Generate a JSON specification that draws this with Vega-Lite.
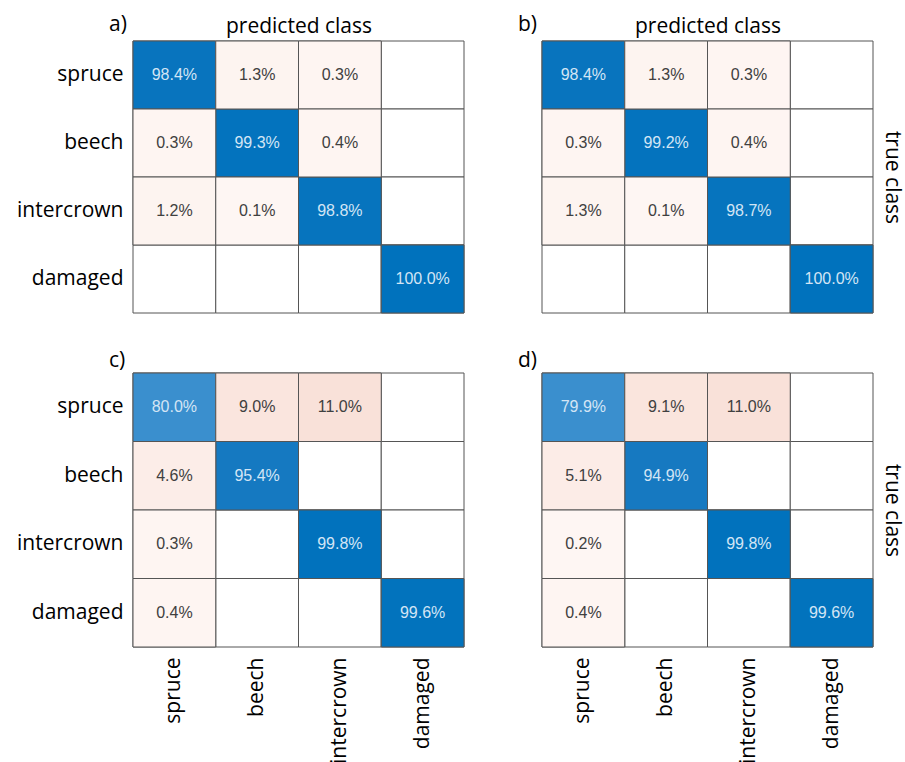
{
  "$schema": "https://vega.github.io/schema/vega-lite/v6.json",
  "background": "white",
  "padding": {"left": 5, "top": 14, "right": 5, "bottom": 0},
  "config": {
    "view": {"stroke": null},
    "title": {"font": "Open Sans", "fontSize": 21, "fontWeight": "normal", "color": "#000000", "anchor": "start", "frame": "group"},
    "axis": {"labelFont": "Open Sans", "labelFontSize": 21, "labelColor": "#000000", "titleFont": "Open Sans", "titleFontSize": 21, "titleFontWeight": "normal", "titleColor": "#000000", "ticks": false, "domain": false, "grid": false}
  },
  "data": {"values": [
    {"panel": "a", "t": "spruce", "p": "spruce", "v": 98.4},
    {"panel": "a", "t": "spruce", "p": "beech", "v": 1.3},
    {"panel": "a", "t": "spruce", "p": "intercrown", "v": 0.3},
    {"panel": "a", "t": "spruce", "p": "damaged", "v": null},
    {"panel": "a", "t": "beech", "p": "spruce", "v": 0.3},
    {"panel": "a", "t": "beech", "p": "beech", "v": 99.3},
    {"panel": "a", "t": "beech", "p": "intercrown", "v": 0.4},
    {"panel": "a", "t": "beech", "p": "damaged", "v": null},
    {"panel": "a", "t": "intercrown", "p": "spruce", "v": 1.2},
    {"panel": "a", "t": "intercrown", "p": "beech", "v": 0.1},
    {"panel": "a", "t": "intercrown", "p": "intercrown", "v": 98.8},
    {"panel": "a", "t": "intercrown", "p": "damaged", "v": null},
    {"panel": "a", "t": "damaged", "p": "spruce", "v": null},
    {"panel": "a", "t": "damaged", "p": "beech", "v": null},
    {"panel": "a", "t": "damaged", "p": "intercrown", "v": null},
    {"panel": "a", "t": "damaged", "p": "damaged", "v": 100.0},
    {"panel": "b", "t": "spruce", "p": "spruce", "v": 98.4},
    {"panel": "b", "t": "spruce", "p": "beech", "v": 1.3},
    {"panel": "b", "t": "spruce", "p": "intercrown", "v": 0.3},
    {"panel": "b", "t": "spruce", "p": "damaged", "v": null},
    {"panel": "b", "t": "beech", "p": "spruce", "v": 0.3},
    {"panel": "b", "t": "beech", "p": "beech", "v": 99.2},
    {"panel": "b", "t": "beech", "p": "intercrown", "v": 0.4},
    {"panel": "b", "t": "beech", "p": "damaged", "v": null},
    {"panel": "b", "t": "intercrown", "p": "spruce", "v": 1.3},
    {"panel": "b", "t": "intercrown", "p": "beech", "v": 0.1},
    {"panel": "b", "t": "intercrown", "p": "intercrown", "v": 98.7},
    {"panel": "b", "t": "intercrown", "p": "damaged", "v": null},
    {"panel": "b", "t": "damaged", "p": "spruce", "v": null},
    {"panel": "b", "t": "damaged", "p": "beech", "v": null},
    {"panel": "b", "t": "damaged", "p": "intercrown", "v": null},
    {"panel": "b", "t": "damaged", "p": "damaged", "v": 100.0},
    {"panel": "c", "t": "spruce", "p": "spruce", "v": 80.0},
    {"panel": "c", "t": "spruce", "p": "beech", "v": 9.0},
    {"panel": "c", "t": "spruce", "p": "intercrown", "v": 11.0},
    {"panel": "c", "t": "spruce", "p": "damaged", "v": null},
    {"panel": "c", "t": "beech", "p": "spruce", "v": 4.6},
    {"panel": "c", "t": "beech", "p": "beech", "v": 95.4},
    {"panel": "c", "t": "beech", "p": "intercrown", "v": null},
    {"panel": "c", "t": "beech", "p": "damaged", "v": null},
    {"panel": "c", "t": "intercrown", "p": "spruce", "v": 0.3},
    {"panel": "c", "t": "intercrown", "p": "beech", "v": null},
    {"panel": "c", "t": "intercrown", "p": "intercrown", "v": 99.8},
    {"panel": "c", "t": "intercrown", "p": "damaged", "v": null},
    {"panel": "c", "t": "damaged", "p": "spruce", "v": 0.4},
    {"panel": "c", "t": "damaged", "p": "beech", "v": null},
    {"panel": "c", "t": "damaged", "p": "intercrown", "v": null},
    {"panel": "c", "t": "damaged", "p": "damaged", "v": 99.6},
    {"panel": "d", "t": "spruce", "p": "spruce", "v": 79.9},
    {"panel": "d", "t": "spruce", "p": "beech", "v": 9.1},
    {"panel": "d", "t": "spruce", "p": "intercrown", "v": 11.0},
    {"panel": "d", "t": "spruce", "p": "damaged", "v": null},
    {"panel": "d", "t": "beech", "p": "spruce", "v": 5.1},
    {"panel": "d", "t": "beech", "p": "beech", "v": 94.9},
    {"panel": "d", "t": "beech", "p": "intercrown", "v": null},
    {"panel": "d", "t": "beech", "p": "damaged", "v": null},
    {"panel": "d", "t": "intercrown", "p": "spruce", "v": 0.2},
    {"panel": "d", "t": "intercrown", "p": "beech", "v": null},
    {"panel": "d", "t": "intercrown", "p": "intercrown", "v": 99.8},
    {"panel": "d", "t": "intercrown", "p": "damaged", "v": null},
    {"panel": "d", "t": "damaged", "p": "spruce", "v": 0.4},
    {"panel": "d", "t": "damaged", "p": "beech", "v": null},
    {"panel": "d", "t": "damaged", "p": "intercrown", "v": null},
    {"panel": "d", "t": "damaged", "p": "damaged", "v": 99.6}
  ]},
  "vconcat": [
    {
      "hconcat": [
        {
          "width": 331, "height": 272,
          "title": {"text": "a)", "dx": -24, "dy": 22, "offset": 2},
          "transform": [{"filter": "datum.panel === 'a'"}],
          "encoding": {
            "x": {"field": "p", "type": "nominal", "sort": ["spruce", "beech", "intercrown", "damaged"], "axis": {"orient": "top", "labels": false, "title": "predicted class", "titlePadding": 5}},
            "y": {"field": "t", "type": "nominal", "sort": ["spruce", "beech", "intercrown", "damaged"], "axis": {"orient": "left", "title": null, "labelPadding": 10, "minExtent": 128, "maxExtent": 128}}
          },
          "layer": [
            {"mark": {"type": "rect", "fill": "white", "stroke": "#555555", "strokeWidth": 1}},
            {"transform": [{"filter": "datum.v != null && datum.t === datum.p"}], "mark": {"type": "rect", "stroke": "#555555", "strokeWidth": 1}, "encoding": {"color": {"field": "v", "type": "quantitative", "scale": {"domain": [80, 100], "range": ["#3A8FCE", "#0072BD"], "clamp": true}, "legend": null}}},
            {"transform": [{"filter": "datum.v != null && datum.t !== datum.p"}], "mark": {"type": "rect", "stroke": "#555555", "strokeWidth": 1}, "encoding": {"color": {"field": "v", "type": "quantitative", "scale": {"domain": [0, 11], "range": ["#FEF6F3", "#F9E1D9"], "clamp": true}, "legend": null}}},
            {"transform": [{"filter": "datum.v != null"}, {"calculate": "format(datum.v, '.1f') + '%'", "as": "label"}], "mark": {"type": "text", "font": "Liberation Sans", "fontSize": 16}, "encoding": {"text": {"field": "label", "type": "nominal"}, "color": {"condition": {"test": "datum.t === datum.p", "value": "#D3E5F5"}, "value": "#404040"}}}
          ],
          "resolve": {"scale": {"color": "independent"}}
        },
        {
          "width": 331, "height": 272,
          "title": {"text": "b)", "dx": -24, "dy": 22, "offset": 2},
          "transform": [{"filter": "datum.panel === 'b'"}],
          "encoding": {
            "x": {"field": "p", "type": "nominal", "sort": ["spruce", "beech", "intercrown", "damaged"], "axis": {"orient": "top", "labels": false, "title": "predicted class", "titlePadding": 5}},
            "y": {"field": "t", "type": "nominal", "sort": ["spruce", "beech", "intercrown", "damaged"], "axis": {"orient": "right", "labels": false, "title": "true class", "titleAngle": 90, "titlePadding": 8}}
          },
          "layer": [
            {"mark": {"type": "rect", "fill": "white", "stroke": "#555555", "strokeWidth": 1}},
            {"transform": [{"filter": "datum.v != null && datum.t === datum.p"}], "mark": {"type": "rect", "stroke": "#555555", "strokeWidth": 1}, "encoding": {"color": {"field": "v", "type": "quantitative", "scale": {"domain": [80, 100], "range": ["#3A8FCE", "#0072BD"], "clamp": true}, "legend": null}}},
            {"transform": [{"filter": "datum.v != null && datum.t !== datum.p"}], "mark": {"type": "rect", "stroke": "#555555", "strokeWidth": 1}, "encoding": {"color": {"field": "v", "type": "quantitative", "scale": {"domain": [0, 11], "range": ["#FEF6F3", "#F9E1D9"], "clamp": true}, "legend": null}}},
            {"transform": [{"filter": "datum.v != null"}, {"calculate": "format(datum.v, '.1f') + '%'", "as": "label"}], "mark": {"type": "text", "font": "Liberation Sans", "fontSize": 16}, "encoding": {"text": {"field": "label", "type": "nominal"}, "color": {"condition": {"test": "datum.t === datum.p", "value": "#D3E5F5"}, "value": "#404040"}}}
          ],
          "resolve": {"scale": {"color": "independent"}}
        }
      ],
      "spacing": 53
    },
    {
      "hconcat": [
        {
          "width": 331, "height": 274,
          "title": {"text": "c)", "dx": -24, "offset": 2},
          "transform": [{"filter": "datum.panel === 'c'"}],
          "encoding": {
            "x": {"field": "p", "type": "nominal", "sort": ["spruce", "beech", "intercrown", "damaged"], "axis": {"orient": "bottom", "labelAngle": -90, "labelPadding": 10, "title": null}},
            "y": {"field": "t", "type": "nominal", "sort": ["spruce", "beech", "intercrown", "damaged"], "axis": {"orient": "left", "title": null, "labelPadding": 10, "minExtent": 128, "maxExtent": 128}}
          },
          "layer": [
            {"mark": {"type": "rect", "fill": "white", "stroke": "#555555", "strokeWidth": 1}},
            {"transform": [{"filter": "datum.v != null && datum.t === datum.p"}], "mark": {"type": "rect", "stroke": "#555555", "strokeWidth": 1}, "encoding": {"color": {"field": "v", "type": "quantitative", "scale": {"domain": [80, 100], "range": ["#3A8FCE", "#0072BD"], "clamp": true}, "legend": null}}},
            {"transform": [{"filter": "datum.v != null && datum.t !== datum.p"}], "mark": {"type": "rect", "stroke": "#555555", "strokeWidth": 1}, "encoding": {"color": {"field": "v", "type": "quantitative", "scale": {"domain": [0, 11], "range": ["#FEF6F3", "#F9E1D9"], "clamp": true}, "legend": null}}},
            {"transform": [{"filter": "datum.v != null"}, {"calculate": "format(datum.v, '.1f') + '%'", "as": "label"}], "mark": {"type": "text", "font": "Liberation Sans", "fontSize": 16}, "encoding": {"text": {"field": "label", "type": "nominal"}, "color": {"condition": {"test": "datum.t === datum.p", "value": "#D3E5F5"}, "value": "#404040"}}}
          ],
          "resolve": {"scale": {"color": "independent"}}
        },
        {
          "width": 331, "height": 274,
          "title": {"text": "d)", "dx": -24, "offset": 2},
          "transform": [{"filter": "datum.panel === 'd'"}],
          "encoding": {
            "x": {"field": "p", "type": "nominal", "sort": ["spruce", "beech", "intercrown", "damaged"], "axis": {"orient": "bottom", "labelAngle": -90, "labelPadding": 10, "title": null}},
            "y": {"field": "t", "type": "nominal", "sort": ["spruce", "beech", "intercrown", "damaged"], "axis": {"orient": "right", "labels": false, "title": "true class", "titleAngle": 90, "titlePadding": 8}}
          },
          "layer": [
            {"mark": {"type": "rect", "fill": "white", "stroke": "#555555", "strokeWidth": 1}},
            {"transform": [{"filter": "datum.v != null && datum.t === datum.p"}], "mark": {"type": "rect", "stroke": "#555555", "strokeWidth": 1}, "encoding": {"color": {"field": "v", "type": "quantitative", "scale": {"domain": [80, 100], "range": ["#3A8FCE", "#0072BD"], "clamp": true}, "legend": null}}},
            {"transform": [{"filter": "datum.v != null && datum.t !== datum.p"}], "mark": {"type": "rect", "stroke": "#555555", "strokeWidth": 1}, "encoding": {"color": {"field": "v", "type": "quantitative", "scale": {"domain": [0, 11], "range": ["#FEF6F3", "#F9E1D9"], "clamp": true}, "legend": null}}},
            {"transform": [{"filter": "datum.v != null"}, {"calculate": "format(datum.v, '.1f') + '%'", "as": "label"}], "mark": {"type": "text", "font": "Liberation Sans", "fontSize": 16}, "encoding": {"text": {"field": "label", "type": "nominal"}, "color": {"condition": {"test": "datum.t === datum.p", "value": "#D3E5F5"}, "value": "#404040"}}}
          ],
          "resolve": {"scale": {"color": "independent"}}
        }
      ],
      "spacing": 53
    }
  ],
  "spacing": 35
}
